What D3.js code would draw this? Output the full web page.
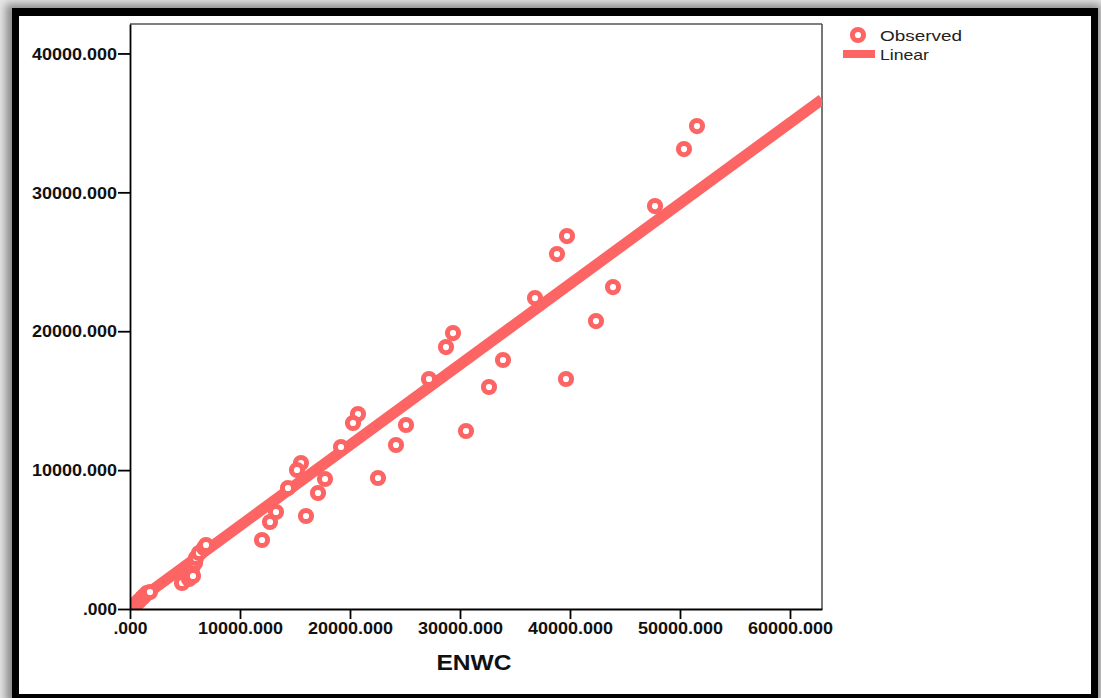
<!DOCTYPE html>
<html>
<head>
<meta charset="utf-8">
<script src="https://cdn.jsdelivr.net/npm/d3@7"></script>
<style>
html,body{margin:0;padding:0;background:#fff;}
svg{display:block;}
text{font-family:"Liberation Sans",Arial,sans-serif;}
</style>
</head>
<body>
<svg id="chart" width="1101" height="698"></svg>
<script>
// ---- data ----
const xValues = [51545, 50364, 47727, 39727, 38818, 36818, 43909, 42364, 39636, 29364,
  28727, 33909, 32636, 27182, 30545, 20727, 20273, 25091, 19182, 24182,
  15545, 15182, 22545, 17727, 14364, 17091, 13273, 12727, 16000, 12000,
  273, 545, 818, 1091, 1273, 1545, 1818,
  4727, 5364, 5455, 5636, 5909, 6000, 6273, 6727, 6909, 5727];
const yValues = [34773, 33117, 29014, 26854, 25558, 22390, 23182, 20734, 16559, 19870,
  18862, 17927, 15983, 16559, 12815, 14039, 13391, 13247, 11663, 11807,
  10511, 10007, 9431, 9359, 8711, 8351, 6983, 6264, 6695, 4968,
  144, 360, 576, 792, 936, 1152, 1224,
  1872, 2160, 2520, 2880, 3312, 3672, 4032, 4392, 4608, 2376];
const fitIntercept = 200;
const fitSlope = 0.58;
const xTicks = [0, 10000, 20000, 30000, 40000, 50000, 60000];
const yTicks = [0, 10000, 20000, 30000, 40000];
const xDomain = [0, 62910];
const yDomain = [0, 42120];
const legendLabels = ["Observed", "Linear"];
const xTitle = "ENWC";

const color = "#fd6464";
const svg = d3.select("#chart");

// background shadow and frame
const defs = svg.append("defs");
const f = defs.append("filter").attr("id","blur").attr("x","-10%").attr("y","-10%").attr("width","120%").attr("height","120%");
f.append("feGaussianBlur").attr("stdDeviation", 4);
defs.append("clipPath").attr("id","plotclip").append("rect")
  .attr("x",130).attr("y",24).attr("width",692).attr("height",585);

svg.append("rect").attr("width",1101).attr("height",698).attr("fill","#e6e6e6");
svg.append("rect").attr("x",6).attr("y",4).attr("width",1095).attr("height",700)
  .attr("fill","#888").attr("filter","url(#blur)");
svg.append("rect").attr("x",12).attr("y",8).attr("width",1086).attr("height",700).attr("fill","#000");
svg.append("rect").attr("x",19).attr("y",16).attr("width",1072).attr("height",678).attr("fill","#fff");

const x = d3.scaleLinear().domain(xDomain).range([130, 822]);
const y = d3.scaleLinear().domain(yDomain).range([609, 24]);

// plot frame (top / right)
svg.append("line").attr("x1",130).attr("x2",822).attr("y1",24).attr("y2",24)
  .attr("stroke","#555").attr("stroke-width",1.6);
svg.append("line").attr("x1",822).attr("x2",822).attr("y1",24).attr("y2",609)
  .attr("stroke","#555").attr("stroke-width",1.6);

// fit line
const g = svg.append("g").attr("clip-path","url(#plotclip)");
g.append("line")
  .attr("x1", x(0)).attr("y1", y(fitIntercept))
  .attr("x2", x(xDomain[1])).attr("y2", y(fitIntercept + fitSlope*xDomain[1]))
  .attr("stroke", color).attr("stroke-width", 11);

// points
g.selectAll("circle.pt").data(xValues.map((v,i)=>[v, yValues[i]]))
  .enter().append("circle").attr("class","pt")
  .attr("cx", d=>x(d[0])).attr("cy", d=>y(d[1])).attr("r", 5.6)
  .attr("fill","#fff").attr("stroke", color).attr("stroke-width", 5);

// axes
const fmt = v => v === 0 ? ".000" : d3.format(".3f")(v);
const xAxis = svg.append("g").attr("transform","translate(0,609)")
  .call(d3.axisBottom(x).tickValues(xTicks).tickFormat(fmt).tickSizeInner(10).tickSizeOuter(0).tickPadding(4));
const yAxis = svg.append("g").attr("transform","translate(130,0)")
  .call(d3.axisLeft(y).tickValues(yTicks).tickFormat(fmt).tickSizeInner(12).tickSizeOuter(0).tickPadding(1));
[xAxis, yAxis].forEach(a => {
  a.select(".domain").attr("stroke","#000").attr("stroke-width",1.8);
  a.selectAll(".tick line").attr("stroke","#000").attr("stroke-width",1.8);
  a.selectAll("text").attr("font-family","'Liberation Sans',Arial,sans-serif")
    .attr("font-size",16).attr("font-weight","bold").attr("fill","#111");
});
xAxis.selectAll(".tick text").attr("dy","0.71em").each(function(d){
  d3.select(this).attr("textLength", d === 0 ? 34 : 85).attr("lengthAdjust","spacingAndGlyphs");
});
yAxis.selectAll(".tick text").attr("dy","0.36em").each(function(d){
  d3.select(this).attr("textLength", d === 0 ? 34 : 85).attr("lengthAdjust","spacingAndGlyphs");
});
// x axis title
svg.append("text").attr("x", 474).attr("y", 670).attr("text-anchor","middle")
  .attr("font-size",22).attr("font-weight","bold").attr("fill","#111")
  .attr("textLength",75).attr("lengthAdjust","spacingAndGlyphs").text(xTitle);

// legend
svg.append("circle").attr("cx",858).attr("cy",35).attr("r",5.6)
  .attr("fill","#fff").attr("stroke",color).attr("stroke-width",5);
svg.append("rect").attr("x",843).attr("y",50).attr("width",32).attr("height",8).attr("fill",color);
svg.append("text").attr("x",880).attr("y",41).attr("font-size",15).attr("fill","#222")
  .attr("textLength",82).attr("lengthAdjust","spacingAndGlyphs").text(legendLabels[0]);
svg.append("text").attr("x",880).attr("y",60).attr("font-size",15).attr("fill","#222")
  .attr("textLength",49).attr("lengthAdjust","spacingAndGlyphs").text(legendLabels[1]);
</script>
</body>
</html>
